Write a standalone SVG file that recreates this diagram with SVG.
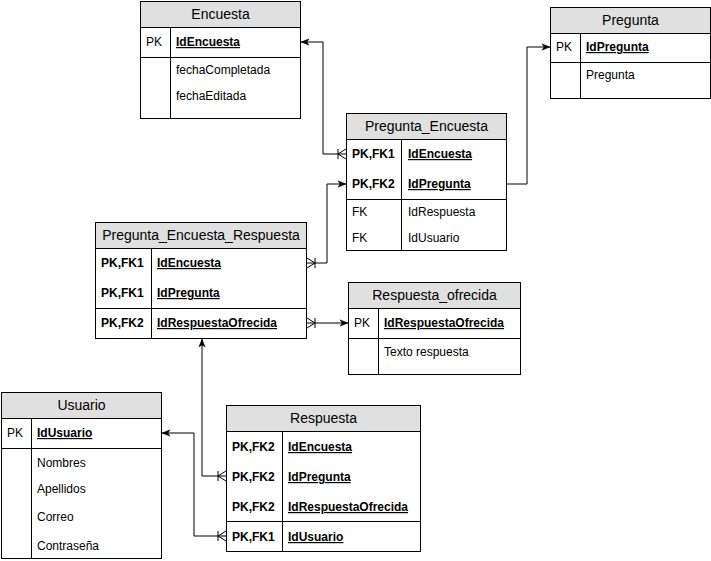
<svg xmlns="http://www.w3.org/2000/svg" width="711" height="561" viewBox="0 0 711 561">
<style>
.box{fill:#fff;stroke:#000;stroke-width:1}
.hdr{fill:#e0e0e0;stroke:#000;stroke-width:1}
.ln{stroke:#000;stroke-width:1;fill:none}
.t{font-family:"Liberation Sans",Arial,sans-serif;font-size:12px;fill:#000}
.title{font-family:"Liberation Sans",Arial,sans-serif;font-size:14px;fill:#000;text-anchor:middle}
.b{font-weight:bold}
.k{font-weight:bold;text-decoration:underline}
.con{stroke:#000;stroke-width:1;fill:none;marker-end:url(#arrow)}
.many{marker-start:url(#crow)}
</style>
<defs>
<marker id="arrow" viewBox="0 0 10 10" refX="10" refY="5" markerWidth="8" markerHeight="8" markerUnits="userSpaceOnUse" orient="auto">
<path d="M0,1 L10,5 L0,9 L2.5,5 Z" fill="#000" stroke="#000" stroke-width="0.5"/>
</marker>
<marker id="crow" viewBox="-1 -7 14 14" refX="0" refY="0" markerWidth="14" markerHeight="14" markerUnits="userSpaceOnUse" orient="auto" overflow="visible">
<path d="M0,-5 L8,0 L0,5 M8,-5 V5" fill="none" stroke="#000" stroke-width="1"/>
</marker>
</defs>

<g id="connectors">
<path class="con many" d="M346,154 H323 V42 H301"/>
<path class="con" d="M507,184 H527 V47 H550"/>
<path class="con many" d="M307,263 H327 V184 H346"/>
<path class="con many" d="M307,323 H348"/>
<path class="con many" d="M226,476 H202 V339"/>
<path class="con many" d="M226,536 H194 V433 H162"/>
</g>

<g id="Encuesta">
<rect class="box" x="140.5" y="1.5" width="160" height="117"/>
<rect class="hdr" x="140.5" y="1.5" width="160" height="26"/>
<line class="ln" x1="140.5" y1="57.5" x2="300.5" y2="57.5"/>
<line class="ln" x1="170.5" y1="27.5" x2="170.5" y2="118.5"/>
<text class="title" x="220.5" y="19">Encuesta</text>
<text class="t" x="146" y="46">PK</text>
<text class="t k" x="176" y="46">IdEncuesta</text>
<text class="t" x="176" y="74">fechaCompletada</text>
<text class="t" x="176" y="100">fechaEditada</text>
</g>

<g id="Pregunta">
<rect class="box" x="550.5" y="7.5" width="160" height="91"/>
<rect class="hdr" x="550.5" y="7.5" width="160" height="26"/>
<line class="ln" x1="550.5" y1="62.5" x2="710.5" y2="62.5"/>
<line class="ln" x1="580.5" y1="33.5" x2="580.5" y2="98.5"/>
<text class="title" x="630.5" y="25">Pregunta</text>
<text class="t" x="556" y="51">PK</text>
<text class="t k" x="586" y="51">IdPregunta</text>
<text class="t" x="586" y="79">Pregunta</text>
</g>

<g id="Pregunta_Encuesta">
<rect class="box" x="346.5" y="113.5" width="160" height="137"/>
<rect class="hdr" x="346.5" y="113.5" width="160" height="26"/>
<line class="ln" x1="346.5" y1="199.5" x2="506.5" y2="199.5"/>
<line class="ln" x1="401.5" y1="139.5" x2="401.5" y2="250.5"/>
<text class="title" x="426.5" y="131">Pregunta_Encuesta</text>
<text class="t b" x="352" y="158">PK,FK1</text>
<text class="t k" x="408" y="158">IdEncuesta</text>
<text class="t b" x="352" y="188">PK,FK2</text>
<text class="t k" x="408" y="188">IdPregunta</text>
<text class="t" x="352" y="216">FK</text>
<text class="t" x="408" y="216">IdRespuesta</text>
<text class="t" x="352" y="242">FK</text>
<text class="t" x="408" y="242">IdUsuario</text>
</g>

<g id="Pregunta_Encuesta_Respuesta">
<rect class="box" x="95.5" y="222.5" width="211" height="116"/>
<rect class="hdr" x="95.5" y="222.5" width="211" height="26"/>
<line class="ln" x1="95.5" y1="308.5" x2="306.5" y2="308.5"/>
<line class="ln" x1="151.5" y1="248.5" x2="151.5" y2="338.5"/>
<text class="title" x="201" y="240">Pregunta_Encuesta_Respuesta</text>
<text class="t b" x="101" y="267">PK,FK1</text>
<text class="t k" x="157" y="267">IdEncuesta</text>
<text class="t b" x="101" y="297">PK,FK1</text>
<text class="t k" x="157" y="297">IdPregunta</text>
<text class="t b" x="101" y="327">PK,FK2</text>
<text class="t k" x="157" y="327">IdRespuestaOfrecida</text>
</g>

<g id="Respuesta_ofrecida">
<rect class="box" x="348.5" y="282.5" width="172" height="92"/>
<rect class="hdr" x="348.5" y="282.5" width="172" height="26"/>
<line class="ln" x1="348.5" y1="338.5" x2="520.5" y2="338.5"/>
<line class="ln" x1="378.5" y1="308.5" x2="378.5" y2="374.5"/>
<text class="title" x="434.5" y="300">Respuesta_ofrecida</text>
<text class="t" x="354" y="327">PK</text>
<text class="t k" x="384" y="327">IdRespuestaOfrecida</text>
<text class="t" x="384" y="356">Texto respuesta</text>
</g>

<g id="Usuario">
<rect class="box" x="1.5" y="392.5" width="160" height="166"/>
<rect class="hdr" x="1.5" y="392.5" width="160" height="26"/>
<line class="ln" x1="1.5" y1="448.5" x2="161.5" y2="448.5"/>
<line class="ln" x1="31.5" y1="418.5" x2="31.5" y2="558.5"/>
<text class="title" x="81.5" y="410">Usuario</text>
<text class="t" x="7" y="437">PK</text>
<text class="t k" x="37" y="437">IdUsuario</text>
<text class="t" x="37" y="467">Nombres</text>
<text class="t" x="37" y="493">Apellidos</text>
<text class="t" x="37" y="521">Correo</text>
<text class="t" x="37" y="550">Contraseña</text>
</g>

<g id="Respuesta">
<rect class="box" x="226.5" y="405.5" width="194" height="146"/>
<rect class="hdr" x="226.5" y="405.5" width="194" height="26"/>
<line class="ln" x1="226.5" y1="521.5" x2="420.5" y2="521.5"/>
<line class="ln" x1="282.5" y1="431.5" x2="282.5" y2="551.5"/>
<text class="title" x="323.5" y="423">Respuesta</text>
<text class="t b" x="232" y="451">PK,FK2</text>
<text class="t k" x="288" y="451">IdEncuesta</text>
<text class="t b" x="232" y="481">PK,FK2</text>
<text class="t k" x="288" y="481">IdPregunta</text>
<text class="t b" x="232" y="511">PK,FK2</text>
<text class="t k" x="288" y="511">IdRespuestaOfrecida</text>
<text class="t b" x="232" y="541">PK,FK1</text>
<text class="t k" x="288" y="541">IdUsuario</text>
</g>
</svg>
